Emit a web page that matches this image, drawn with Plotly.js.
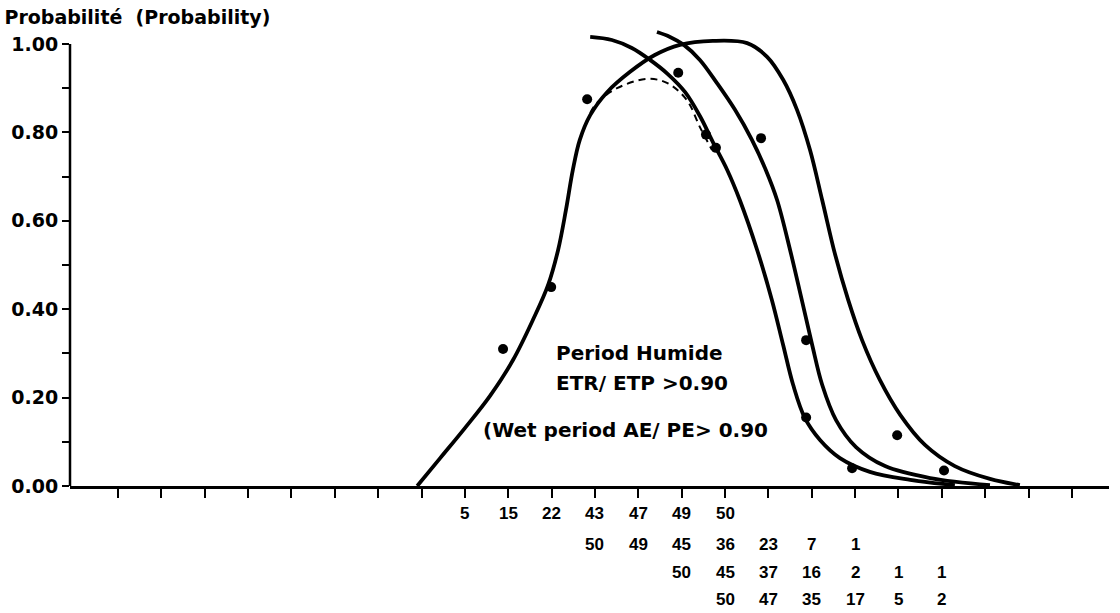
<!DOCTYPE html>
<html>
<head>
<meta charset="utf-8">
<script src="https://cdn.plot.ly/plotly-3.0.1.min.js"></script>
<style>html,body{margin:0;padding:0;background:#fff;}#chart{width:1120px;height:613px;}</style>
</head>
<body>
<div id="chart"></div>
<script>
// ---- data ----
const curve1X = [7.90, 8.43, 9.00, 9.58, 10.11, 10.57, 10.92, 11.15, 11.33, 11.49, 11.65, 11.89, 12.28, 12.81, 13.38, 13.96, 14.72, 15.51, 15.97, 16.34, 16.66, 16.96, 17.24, 17.54, 17.84, 18.16, 18.57, 19.04, 19.61, 20.30, 21.11, 21.80];
const curve1Y = [0.0, 0.063, 0.131, 0.204, 0.285, 0.376, 0.455, 0.534, 0.624, 0.715, 0.783, 0.839, 0.891, 0.937, 0.975, 0.998, 1.007, 1.002, 0.971, 0.919, 0.851, 0.760, 0.647, 0.523, 0.421, 0.330, 0.240, 0.161, 0.093, 0.045, 0.016, 0.002];

const curve2X = [11.89, 12.39, 12.85, 13.27, 13.68, 14.08, 14.42, 14.72, 15.05, 15.34, 15.74, 16.08, 16.34, 16.57, 16.84, 17.19, 17.65, 18.34, 19.27, 20.30];
const curve2Y = [1.016, 1.009, 0.991, 0.964, 0.932, 0.891, 0.837, 0.778, 0.715, 0.647, 0.534, 0.421, 0.319, 0.229, 0.154, 0.104, 0.063, 0.032, 0.014, 0.002];

const curve3X = [13.43, 13.73, 14.05, 14.42, 14.81, 15.23, 15.62, 15.94, 16.20, 16.50, 16.77, 17.01, 17.24, 17.56, 18.02, 18.69, 19.73, 21.11];
const curve3Y = [1.027, 1.016, 0.998, 0.964, 0.912, 0.851, 0.783, 0.715, 0.647, 0.534, 0.421, 0.319, 0.229, 0.149, 0.088, 0.045, 0.018, 0.002];

const dashedX = [11.89, 12.05, 12.51, 13.20, 13.66, 14.12, 14.42, 14.70];
const dashedY = [0.844, 0.867, 0.900, 0.921, 0.912, 0.873, 0.812, 0.760];

const dotsX = [9.88, 10.99, 11.82, 13.92, 14.56, 14.79, 15.83, 16.87, 16.87, 17.93, 18.97, 20.05];
const dotsY = [0.31, 0.45, 0.875, 0.935, 0.795, 0.765, 0.787, 0.33, 0.155, 0.04, 0.115, 0.035];

const xTicks = [1,2,3,4,5,6,7,8,9,10,11,12,13,14,15,16,17,18,19,20,21,22,23];
const yTicks = [0, 0.1, 0.2, 0.3, 0.4, 0.5, 0.6, 0.7, 0.8, 0.9, 1.0];
const yTickText = ['0.00', '', '0.20', '', '0.40', '', '0.60', '', '0.80', '', '1.00'];

const row1X = [9, 10, 11, 12, 13, 14, 15];
const row1Vals = ['5', '15', '22', '43', '47', '49', '50'];
const row2X = [12, 13, 14, 15, 16, 17, 18];
const row2Vals = ['50', '49', '45', '36', '23', '7', '1'];
const row3X = [14, 15, 16, 17, 18, 19, 20];
const row3Vals = ['50', '45', '37', '16', '2', '1', '1'];
const row4X = [15, 16, 17, 18, 19, 20];
const row4Vals = ['50', '47', '35', '17', '5', '2'];

const titleText = 'Probabilité  (Probability)';
const noteLines = ['Period Humide', 'ETR/ ETP >0.90', '(Wet period AE/ PE> 0.90'];
const noteX = [11.06, 11.06, 9.38];
const noteY = [0.301, 0.233, 0.127];

// ---- drawing ----
const INK = '#000';
const lineStyle = {color: INK, width: 3.8, shape: 'spline', smoothing: 1};

const traces = [
  {x: curve1X, y: curve1Y, mode: 'lines', line: lineStyle, hoverinfo: 'skip'},
  {x: curve2X, y: curve2Y, mode: 'lines', line: lineStyle, hoverinfo: 'skip'},
  {x: curve3X, y: curve3Y, mode: 'lines', line: lineStyle, hoverinfo: 'skip'},
  {x: dashedX, y: dashedY, mode: 'lines', line: {color: INK, width: 2, dash: '7px,5px', shape: 'spline', smoothing: 1}, hoverinfo: 'skip'},
  {x: dotsX, y: dotsY, mode: 'markers', marker: {color: INK, size: 10}, cliponaxis: false}
];

const rowYs = [-0.0587, -0.128, -0.187, -0.246];
const rows = [[row1X, row1Vals], [row2X, row2Vals], [row3X, row3Vals], [row4X, row4Vals]];
const annotations = [];
rows.forEach(function (r, i) {
  r[0].forEach(function (xv, j) {
    annotations.push({
      x: xv, y: rowYs[i], xref: 'x', yref: 'paper', text: r[1][j], showarrow: false,
      xanchor: 'center', yanchor: 'middle',
      font: {family: 'Liberation Sans, Arial, sans-serif', size: 17, weight: 'bold', color: INK}
    });
  });
});
noteLines.forEach(function (t, i) {
  annotations.push({
    x: noteX[i], y: noteY[i], xref: 'x', yref: 'y', text: t, showarrow: false,
    xanchor: 'left', yanchor: 'middle',
    font: {family: 'DejaVu Sans', size: 20, weight: 'bold', color: INK}
  });
});

const layout = {
  width: 1120, height: 613,
  paper_bgcolor: '#fff', plot_bgcolor: '#fff',
  showlegend: false,
  margin: {l: 70, r: 11, t: 26, b: 127},
  title: {
    text: titleText, xref: 'container', yref: 'container',
    x: 0.004, xanchor: 'left', y: 1 - 17 / 613, yanchor: 'middle',
    font: {family: 'DejaVu Sans', size: 19, weight: 'bold', color: INK}
  },
  xaxis: {
    range: [-0.107, 23.855], tickvals: xTicks, showticklabels: false,
    ticks: 'outside', ticklen: 9, tickwidth: 2, tickcolor: INK,
    showline: true, linewidth: 2.5, linecolor: INK,
    showgrid: false, zeroline: false, fixedrange: true
  },
  yaxis: {
    range: [0, 1.0407], tickvals: yTicks, ticktext: yTickText,
    ticks: 'outside', ticklen: 7, tickwidth: 2, tickcolor: INK,
    tickfont: {family: 'DejaVu Sans', size: 19, weight: 'bold', color: INK},
    showline: false, showgrid: false, zeroline: false, fixedrange: true
  },
  shapes: [
    {type: 'line', xref: 'paper', yref: 'y', x0: 0, x1: 0, y0: 0, y1: 1.0, line: {color: INK, width: 2.5}}
  ],
  annotations: annotations
};

Plotly.newPlot('chart', traces, layout, {staticPlot: true, displayModeBar: false});
</script>
</body>
</html>
